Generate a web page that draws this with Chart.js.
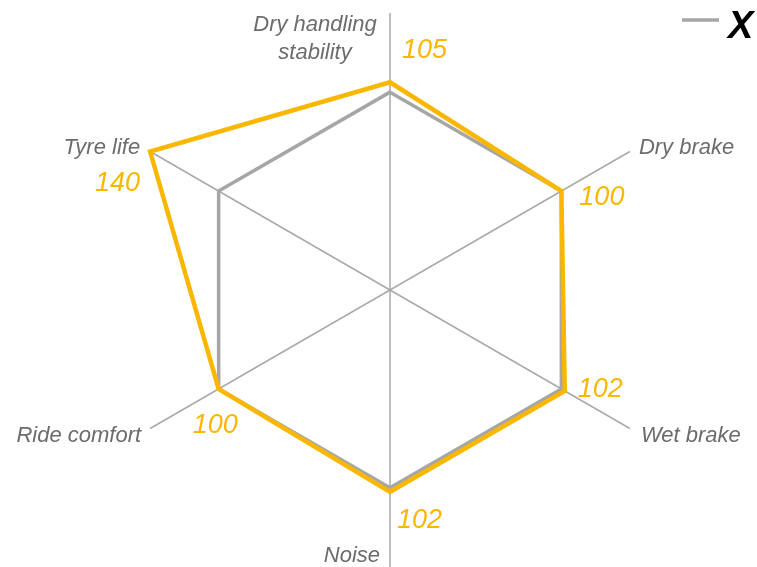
<!DOCTYPE html>
<html>
<head>
<meta charset="utf-8">
<script src="https://cdn.jsdelivr.net/npm/chart.js@4/dist/chart.umd.min.js"></script>
<style>
  html, body { margin: 0; padding: 0; background: #fff; }
  #wrap { width: 757px; height: 567px; position: relative; }
</style>
</head>
<body>
<div id="wrap"><canvas id="c" width="757" height="567"></canvas></div>
<script>
// ---- data ----
const categories = [["Dry handling", "stability"], "Dry brake", "Wet brake", "Noise", "Ride comfort", "Tyre life"];
const referenceValues = [100, 100, 100, 100, 100, 100];
const tyreValues = [105, 100, 102, 102, 100, 140];
const scaleMin = 0;
const scaleMax = 140;

// ---- styles ----
const YELLOW = '#FAB700';
const GREY_SERIES = '#A6A6A6';
const GREY_AXIS = '#A9A9A9';
const GREY_TEXT = '#6C6C6C';
const FONT = '"Liberation Sans", Arial, sans-serif';

// label offsets (pixels) relative to the axis end / data point
const axisLabelLayout = [
  { dx: -75, dy: 18, align: 'center', lineGap: 28 },
  { dx: 9, dy: 2, align: 'left' },
  { dx: 11, dy: 13, align: 'left' },
  { dx: -10, dy: -5, align: 'right' },
  { dx: -9, dy: 13, align: 'right' },
  { dx: -10, dy: 2, align: 'right' }
];
const valueLabelLayout = [
  { dx: 12, dy: -24, align: 'left' },
  { dx: 18, dy: 14, align: 'left' },
  { dx: 13, dy: 6, align: 'left' },
  { dx: 7, dy: 36, align: 'left' },
  { dx: -26, dy: 44, align: 'left' },
  { dx: -10, dy: 39, align: 'right' }
];

const labelPlugin = {
  id: 'radarLabels',
  afterDatasetsDraw(chart) {
    const ctx = chart.ctx;
    const scale = chart.scales.r;
    ctx.save();
    ctx.textBaseline = 'alphabetic';
    // axis names
    ctx.font = 'italic 22px ' + FONT;
    ctx.fillStyle = GREY_TEXT;
    categories.forEach((cat, i) => {
      const p = scale.getPointPositionForValue(i, scaleMax);
      const L = axisLabelLayout[i];
      ctx.textAlign = L.align;
      const lines = Array.isArray(cat) ? cat : [cat];
      lines.forEach((line, k) => {
        ctx.fillText(line, p.x + L.dx, p.y + L.dy + k * (L.lineGap || 0));
      });
    });
    // value labels
    ctx.font = 'italic 27px ' + FONT;
    ctx.fillStyle = YELLOW;
    tyreValues.forEach((v, i) => {
      const p = scale.getPointPositionForValue(i, v);
      const L = valueLabelLayout[i];
      ctx.textAlign = L.align;
      ctx.fillText(String(v), p.x + L.dx, p.y + L.dy);
    });
    // legend fragment (top right)
    ctx.strokeStyle = GREY_SERIES;
    ctx.lineWidth = 3.5;
    ctx.beginPath();
    ctx.moveTo(682, 20);
    ctx.lineTo(719, 20);
    ctx.stroke();
    ctx.fillStyle = '#000';
    ctx.font = 'italic bold 38px ' + FONT;
    ctx.textAlign = 'left';
    ctx.fillText('X', 728, 38);
    ctx.restore();
  }
};

new Chart(document.getElementById('c'), {
  type: 'radar',
  data: {
    labels: categories,
    datasets: [
      {
        label: 'Tyre',
        data: tyreValues,
        borderColor: YELLOW,
        backgroundColor: 'rgba(0,0,0,0)',
        borderWidth: 4.5,
        borderJoinStyle: 'miter',
        pointRadius: 0,
        fill: false
      },
      {
        label: 'Reference',
        data: referenceValues,
        borderColor: GREY_SERIES,
        backgroundColor: 'rgba(0,0,0,0)',
        borderWidth: 3.5,
        borderJoinStyle: 'miter',
        pointRadius: 0,
        fill: false
      }
    ]
  },
  options: {
    responsive: false,
    animation: false,
    devicePixelRatio: 1,
    layout: { padding: { top: 13, bottom: 0, left: 113, right: 90 } },
    plugins: { legend: { display: false }, tooltip: { enabled: false } },
    scales: {
      r: {
        min: scaleMin,
        max: scaleMax,
        grid: { display: false },
        angleLines: { display: true, color: GREY_AXIS, lineWidth: 1.5 },
        ticks: { display: false },
        pointLabels: { display: false }
      }
    }
  },
  plugins: [labelPlugin]
});
</script>
</body>
</html>
